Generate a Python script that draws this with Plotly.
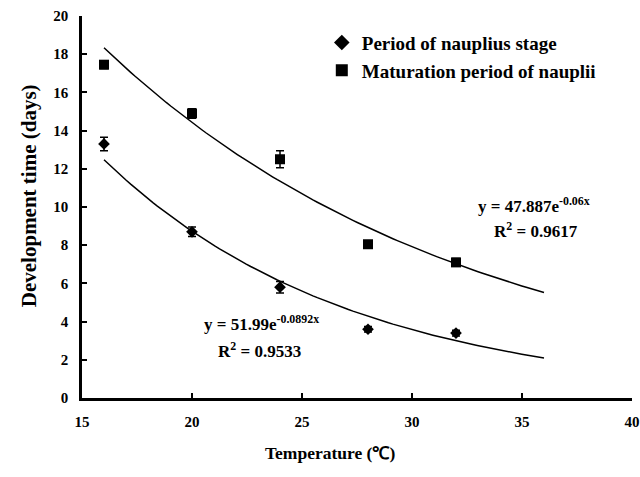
import numpy as np
import plotly.graph_objects as go

temps = [16, 20, 24, 28, 32]
nauplius_stage = [13.3, 8.7, 5.8, 3.6, 3.4]
nauplius_err = [0.35, 0.25, 0.3, 0.15, 0.15]
maturation = [17.45, 14.9, 12.5, 8.05, 7.1]
maturation_err = [0.2, 0.25, 0.45, 0.15, 0.2]

# fitted trendlines shown on chart: y = a*exp(b*x)
fit_nauplius = (51.99, -0.0892)
fit_maturation = (47.887, -0.06)
fit_range = (16, 36)

x_ticks = [15, 20, 25, 30, 35, 40]
y_ticks = list(range(0, 21, 2))

font_family = "Liberation Serif, Times New Roman, serif"

xs = np.linspace(fit_range[0], fit_range[1], 100)

fig = go.Figure()
fig.add_trace(go.Scatter(x=xs, y=fit_maturation[0] * np.exp(fit_maturation[1] * xs),
                         mode="lines", line=dict(color="black", width=1.5),
                         showlegend=False, hoverinfo="skip"))
fig.add_trace(go.Scatter(x=xs, y=fit_nauplius[0] * np.exp(fit_nauplius[1] * xs),
                         mode="lines", line=dict(color="black", width=1.5),
                         showlegend=False, hoverinfo="skip"))
fig.add_trace(go.Scatter(x=temps, y=nauplius_stage, mode="markers",
                         name="<b>Period of nauplius stage</b>",
                         marker=dict(symbol="diamond", size=9, color="black"),
                         error_y=dict(type="data", array=nauplius_err, color="black",
                                      thickness=1.5, width=4)))
fig.add_trace(go.Scatter(x=temps, y=maturation, mode="markers",
                         name="<b>Maturation period of nauplii</b>",
                         marker=dict(symbol="square", size=10, color="black"),
                         error_y=dict(type="data", array=maturation_err, color="black",
                                      thickness=1.5, width=4)))

axis_common = dict(showline=True, linecolor="black", linewidth=2.5, ticks="inside",
                   ticklen=5, tickwidth=1.5, tickcolor="black", showgrid=False,
                   zeroline=False, mirror=False, automargin=False,
                   ticklabeloverflow="allow",
                   tickfont=dict(family=font_family, size=15, color="black"))

fig.update_xaxes(range=[15, 40], tickvals=x_ticks,
                 ticktext=["<b>%d</b>" % v for v in x_ticks],
                 ticklabelstandoff=8, **axis_common)
fig.update_yaxes(range=[0, 20], tickvals=y_ticks,
                 ticktext=["<b>%d</b>" % v for v in y_ticks],
                 ticklabelstandoff=8, **axis_common)

fig.add_annotation(x=0.451, y=-0.145, xref="paper", yref="paper",
                   text="<b>Temperature (℃)</b>", showarrow=False,
                   xanchor="center", yanchor="middle",
                   font=dict(family=font_family, size=17.5, color="black"))
fig.add_annotation(x=-0.097, y=0.53, xref="paper", yref="paper",
                   text="<b>Development time (days)</b>", showarrow=False, textangle=-90,
                   xanchor="center", yanchor="middle",
                   font=dict(family=font_family, size=21, color="black"))

ann_font = dict(family=font_family, size=17, color="black")
annots = [
    (0.716, 0.505, "<b>y = 47.887e<sup>-0.06x</sup></b>"),
    (0.745, 0.44, "<b>R<sup>2</sup> = 0.9617</b>"),
    (0.218, 0.196, "<b>y = 51.99e<sup>-0.0892x</sup></b>"),
    (0.243, 0.126, "<b>R<sup>2</sup> = 0.9533</b>"),
]
for ax_, ay_, t in annots:
    fig.add_annotation(x=ax_, y=ay_, xref="paper", yref="paper", text=t,
                       showarrow=False, xanchor="left", yanchor="middle", font=ann_font)

fig.update_layout(
    width=640, height=477,
    margin=dict(l=82, r=8, t=16, b=79),
    plot_bgcolor="white", paper_bgcolor="white",
    legend=dict(x=0.436, y=0.98, xanchor="left", yanchor="top",
                font=dict(family=font_family, size=19, color="black"),
                bgcolor="rgba(0,0,0,0)", itemsizing="constant"),
    showlegend=True,
)
# remove the browser's default 8px body margin so the figure fills the window exactly
fig.write_html("out.html", config={"displayModeBar": False},
               post_script="document.body.style.margin='0';document.body.style.overflow='hidden';")
